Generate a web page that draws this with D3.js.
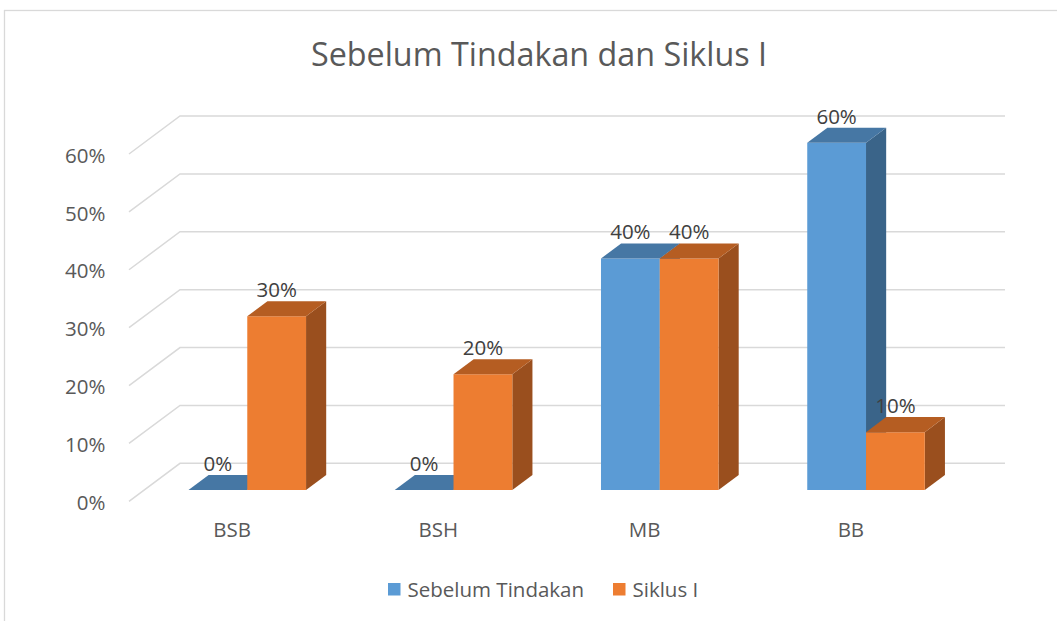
<!DOCTYPE html>
<html>
<head>
<meta charset="utf-8">
<script src="https://cdn.jsdelivr.net/npm/d3@7"></script>
<style>
  body { margin: 0; background: #fff; }
  text { font-family: "Open Sans", "Noto Sans", sans-serif; fill: #595959; }
</style>
</head>
<body>
<svg id="chart"></svg>
<script>
var categories = ["BSB", "BSH", "MB", "BB"];
var seriesNames = ["Sebelum Tindakan", "Siklus I"];
var sebelum = [0, 0, 0.4, 0.6];
var siklus1 = [0.3, 0.2, 0.4, 0.1];
var yTicks = [0, 0.1, 0.2, 0.3, 0.4, 0.5, 0.6];

var width = 1057;
var height = 621;
var fontSize = "20.5px";

// colours: front, top, side
var colors = {
    "Sebelum Tindakan": ["#5b9bd5", "#4677a4", "#3a6489"],
    "Siklus I": ["#ed7d31", "#b55d22", "#9a4f1e"]
};

var svg = d3.select("#chart")
    .attr("width", width)
    .attr("height", height);

// chart frame
svg.append("rect")
    .attr("x", 4.5).attr("y", 10.5)
    .attr("width", 1070).attr("height", 640)
    .attr("fill", "none")
    .attr("stroke", "#d9d9d9")
    .attr("stroke-width", 1.3);

svg.append("text")
    .attr("x", 539).attr("y", 66)
    .attr("text-anchor", "middle")
    .style("font-size", "32.3px")
    .text("Sebelum Tindakan dan Siklus I");

// back wall coordinates, depth vector goes toward the viewer
var depth = { dx: -51, dy: 38 };
var zFront = 0.703, zBack = 0.308;

var y = d3.scaleLinear().domain([0, 0.6]).range([463.3, 116]);
var x0 = d3.scaleBand().domain(categories).range([180, 1005])
    .paddingInner(0.43).paddingOuter(0.215);
var x1 = d3.scaleBand().domain(seriesNames).range([0, x0.bandwidth()]);

function proj(x, v, z) {
    return [x + z * depth.dx, y(v) + z * depth.dy];
}

// gridlines
var grid = svg.append("g");
yTicks.forEach(function(t) {
    var f = proj(180, t, 1);
    grid.append("path")
        .attr("d", d3.line()([f, [180, y(t)], [1005, y(t)]]))
        .attr("fill", "none")
        .attr("stroke", "#d9d9d9")
        .attr("stroke-width", 1.5);
    svg.append("text")
        .attr("x", 105.5)
        .attr("y", f[1] + 1.5)
        .attr("dy", "0.35em")
        .attr("text-anchor", "end")
        .style("font-size", fontSize)
        .text(d3.format(".0%")(t));
});

// category labels at front edge of floor
categories.forEach(function(c) {
    var p = proj(x0(c) + x0.bandwidth() / 2, 0, 1);
    svg.append("text")
        .attr("x", p[0])
        .attr("y", p[1] + 36)
        .attr("text-anchor", "middle")
        .style("font-size", fontSize)
        .text(c);
});

var bars = [];
categories.forEach(function(c, i) {
    bars.push({ cat: c, s: seriesNames[0], v: sebelum[i] });
    bars.push({ cat: c, s: seriesNames[1], v: siklus1[i] });
});

var barG = svg.append("g");
bars.forEach(function(d) {
    var xl = x0(d.cat) + x1(d.s);
    var xr = xl + x1.bandwidth();
    var c = colors[d.s];
    var ftl = proj(xl, d.v, zFront), ftr = proj(xr, d.v, zFront);
    var fbl = proj(xl, 0, zFront), fbr = proj(xr, 0, zFront);
    var btl = proj(xl, d.v, zBack), btr = proj(xr, d.v, zBack);
    var bbr = proj(xr, 0, zBack);
    var line = d3.line();
    if (d.v > 0) {
        barG.append("path").attr("d", line([ftr, btr, bbr, fbr]) + "Z").attr("fill", c[2]);
        barG.append("path").attr("d", line([ftl, ftr, fbr, fbl]) + "Z").attr("fill", c[0]);
    }
    barG.append("path").attr("d", line([ftl, ftr, btr, btl]) + "Z").attr("fill", c[1]);

    svg.append("text")
        .attr("x", (ftl[0] + ftr[0]) / 2)
        .attr("y", btl[1] - 4)
        .attr("text-anchor", "middle")
        .style("font-size", fontSize)
        .style("fill", "#404040")
        .text(d3.format(".0%")(d.v));
});

// legend
var legend = svg.append("g");
var legendX = [388, 613];
seriesNames.forEach(function(s, i) {
    var g = legend.append("g").attr("transform", "translate(" + legendX[i] + ",583)");
    g.append("rect").attr("width", 12.5).attr("height", 12.5).attr("fill", colors[s][0]);
    g.append("text")
        .attr("x", 19.5).attr("y", 6.5)
        .attr("dy", "0.35em")
        .style("font-size", fontSize)
        .text(s);
});
</script>
</body>
</html>
